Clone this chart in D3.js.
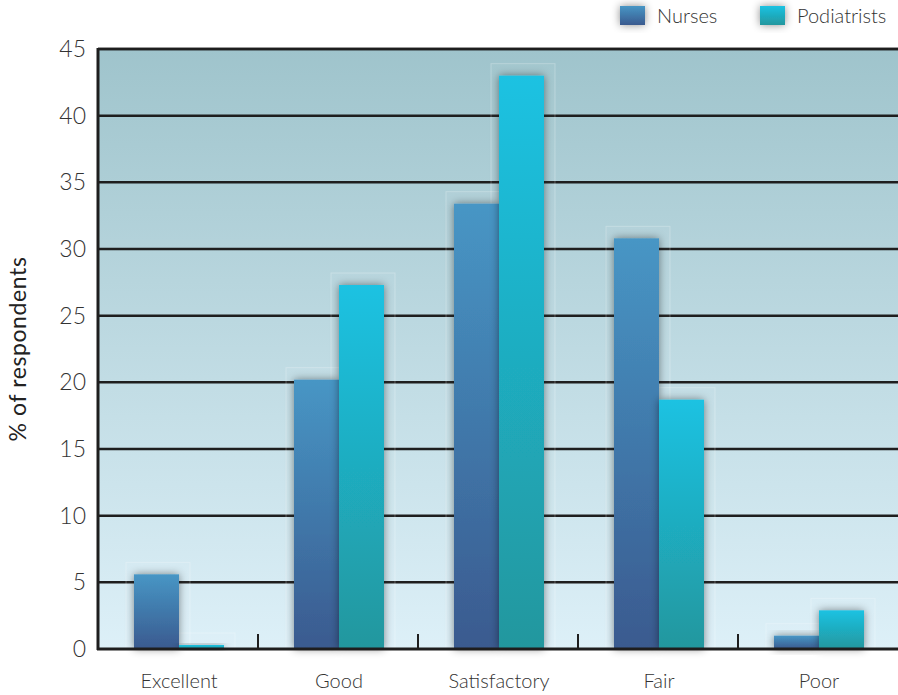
<!DOCTYPE html>
<html>
<head>
<meta charset="utf-8">
<script src="https://cdn.jsdelivr.net/npm/d3@7"></script>
<style>
  body { margin: 0; background: #fff; }
  text { font-family: "Lato", "Open Sans", sans-serif; fill: #333; font-weight: 300; }
</style>
</head>
<body>
<div id="chart"></div>
<script>
var categories = ['Excellent', 'Good', 'Satisfactory', 'Fair', 'Poor'];
var seriesNames = ['Nurses', 'Podiatrists'];
var nurses = [5.6, 20.2, 33.4, 30.8, 1.0];
var podiatrists = [0.3, 27.3, 43.0, 18.7, 2.9];
var yTicks = [0, 5, 10, 15, 20, 25, 30, 35, 40, 45];

var width = 898,
	height = 695,
	margin = {top: 49, right: 0, bottom: 46, left: 98};

var svg = d3.select('#chart').append('svg')
	.attr('width', width)
	.attr('height', height);

var defs = svg.append('defs');

// background gradient of the plot area
var bg = defs.append('linearGradient').attr('id', 'bg').attr('x1', 0).attr('y1', 0).attr('x2', 0).attr('y2', 1);
bg.append('stop').attr('offset', '0%').attr('stop-color', '#9fc4cc');
bg.append('stop').attr('offset', '100%').attr('stop-color', '#ddf0f8');

var gradColors = [['#4796c5', '#3a5a8f'], ['#1cc2e2', '#22979e']];
gradColors.forEach(function(c, i) {
	var g = defs.append('linearGradient').attr('id', 'bar' + i).attr('x1', 0).attr('y1', 0).attr('x2', 0).attr('y2', 1);
	g.append('stop').attr('offset', '0%').attr('stop-color', c[0]);
	g.append('stop').attr('offset', '100%').attr('stop-color', c[1]);
});

var shadow = defs.append('filter').attr('id', 'shadow')
	.attr('x', '-40%').attr('y', '-40%').attr('width', '180%').attr('height', '180%');
shadow.append('feDropShadow')
	.attr('dx', 0).attr('dy', 0).attr('stdDeviation', 4)
	.attr('flood-color', '#000').attr('flood-opacity', 0.45);

var x = d3.scaleBand()
	.domain(categories)
	.range([margin.left, width - margin.right]);

var x1 = d3.scaleBand()
	.domain(seriesNames)
	.range([0, 90]);

var y = d3.scaleLinear()
	.domain([0, 45])
	.range([height - margin.bottom, margin.top]);

// plot background
svg.append('rect')
	.attr('x', margin.left)
	.attr('y', y(45))
	.attr('width', width - margin.right - margin.left)
	.attr('height', y(0) - y(45))
	.attr('fill', 'url(#bg)');

// gridlines
svg.append('g').selectAll('line')
	.data(yTicks.slice(1))
	.enter().append('line')
	.attr('x1', margin.left).attr('x2', width - margin.right)
	.attr('y1', function(d) { return y(d); })
	.attr('y2', function(d) { return y(d); })
	.attr('stroke', '#1e1e1e')
	.attr('stroke-width', 2.5);

// bars
var data = categories.map(function(c, i) {
	return [{cat: c, s: 0, v: nurses[i]}, {cat: c, s: 1, v: podiatrists[i]}];
});

var groups = svg.append('g').selectAll('g')
	.data(data)
	.enter().append('g')
	.attr('transform', function(d) { return 'translate(' + (x(d[0].cat) + x.bandwidth() / 2 - 44) + ',0)'; });

// faint glow frames behind the bars
groups.selectAll('rect.frame')
	.data(function(d) { return d; })
	.enter().append('rect')
	.attr('class', 'frame')
	.attr('x', function(d) { return x1(seriesNames[d.s]) - 8; })
	.attr('y', function(d) { return y(d.v) - 12; })
	.attr('width', x1.bandwidth() + 19)
	.attr('height', function(d) { return y(0) - y(d.v) + 12; })
	.attr('fill', 'rgba(255,255,255,0.04)')
	.attr('stroke', 'rgba(255,255,255,0.25)')
	.attr('stroke-width', 1);

groups.selectAll('rect.bar')
	.data(function(d) { return d; })
	.enter().append('rect')
	.attr('class', 'bar')
	.attr('x', function(d) { return x1(seriesNames[d.s]); })
	.attr('y', function(d) { return y(d.v); })
	.attr('width', x1.bandwidth())
	.attr('height', function(d) { return y(0) - y(d.v); })
	.attr('fill', function(d) { return 'url(#bar' + d.s + ')'; })
	.attr('filter', 'url(#shadow)');

// axes lines
svg.append('line')
	.attr('x1', margin.left).attr('x2', width)
	.attr('y1', y(45)).attr('y2', y(45))
	.attr('stroke', '#1e1e1e').attr('stroke-width', 2.5);
svg.append('line')
	.attr('x1', margin.left).attr('x2', margin.left)
	.attr('y1', y(45) - 1).attr('y2', y(0) + 1)
	.attr('stroke', '#1e1e1e').attr('stroke-width', 3);
svg.append('line')
	.attr('x1', margin.left - 1).attr('x2', width)
	.attr('y1', y(0)).attr('y2', y(0))
	.attr('stroke', '#1e1e1e').attr('stroke-width', 3);

// category separator ticks
svg.append('g').selectAll('line')
	.data(categories.slice(1))
	.enter().append('line')
	.attr('x1', function(d) { return x(d); })
	.attr('x2', function(d) { return x(d); })
	.attr('y1', y(0) - 15).attr('y2', y(0))
	.attr('stroke', '#1e1e1e').attr('stroke-width', 2);

// y tick labels
svg.append('g').selectAll('text')
	.data(yTicks)
	.enter().append('text')
	.attr('x', 86)
	.attr('y', function(d) { return y(d); })
	.attr('dy', '0.35em')
	.attr('text-anchor', 'end')
	.style('font-size', '23px')
	.text(function(d) { return d; });

// x labels
svg.append('g').selectAll('text')
	.data(categories)
	.enter().append('text')
	.attr('x', function(d) { return x(d) + x.bandwidth() / 2 + 1; })
	.attr('y', 688)
	.attr('text-anchor', 'middle')
	.style('font-size', '20px')
	.text(function(d) { return d; });

// y axis title
svg.append('text')
	.attr('transform', 'translate(26,' + y(22.5) + ') rotate(-90)')
	.attr('text-anchor', 'middle')
	.style('font-size', '23px')
	.style('font-weight', 'normal')
	.style('letter-spacing', '0.6px')
	.style('fill', '#222')
	.text('% of respondents');

// legend
var legendX = [620, 760];
var legend = svg.append('g').selectAll('g')
	.data(seriesNames)
	.enter().append('g')
	.attr('transform', function(d, i) { return 'translate(' + legendX[i] + ',6)'; });
legend.append('rect')
	.attr('width', 25).attr('height', 19)
	.attr('fill', function(d, i) { return 'url(#bar' + i + ')'; })
	.attr('filter', 'url(#shadow)');
legend.append('text')
	.attr('x', 37).attr('y', 10)
	.attr('dy', '0.35em')
	.style('font-size', '20px')
	.text(function(d) { return d; });
</script>
</body>
</html>
